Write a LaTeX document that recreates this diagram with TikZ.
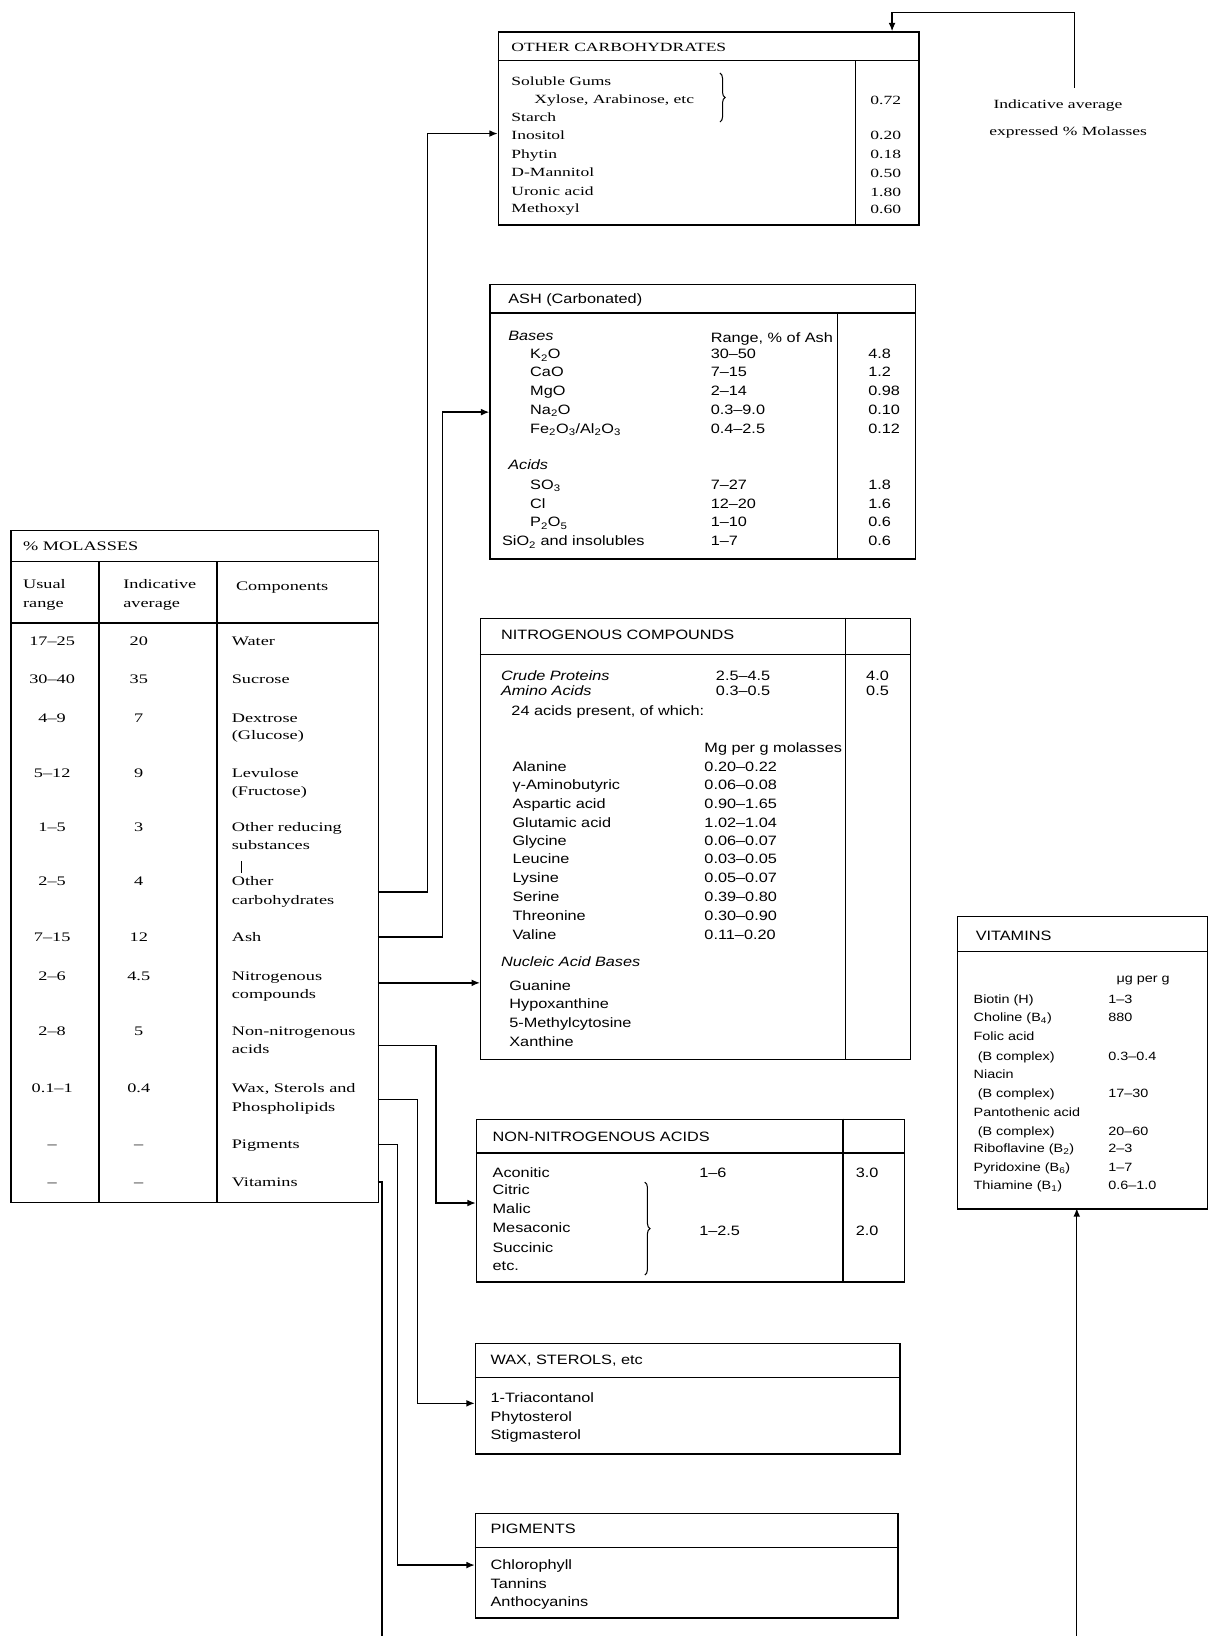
\documentclass[tikz,border=0pt]{standalone}
\usepackage{fontspec}
\setmainfont{Liberation Serif}[FakeStretch=1.4]
\newfontfamily\sansf{Liberation Sans}[FakeStretch=1.2]
\usetikzlibrary{arrows.meta,decorations.pathreplacing}
\newcommand\sbs[1]{\textsubscript{#1}}
\tikzset{
  frame/.style={draw, line width=1.3pt, inner sep=0pt, anchor=north west},
  rule/.style={line width=1.2pt},
  conn/.style={line width=1.3pt},
  arr/.style={conn, -{Latex[length=8pt,width=6.5pt]}},
  tl/.style={inner sep=0pt, anchor=base west},
  tc/.style={inner sep=0pt, anchor=base},
  serb/.style={font=\fontsize{12.5}{15}\selectfont},
  sers/.style={font=\fontsize{12}{14}\selectfont},
  sanb/.style={font=\sansf\fontsize{13}{15}\selectfont},
  sanv/.style={font=\sansf\fontsize{11.5}{14}\selectfont},
  bracestyle/.style={decorate, decoration={brace, amplitude=5pt}, line width=1pt},
}
\begin{document}
\begin{tikzpicture}[x=1pt,y=-1pt]
\useasboundingbox (0,0) rectangle (1157,1568);

% ---------------- OTHER CARBOHYDRATES
\node[frame, minimum width=403pt, minimum height=185pt] (oc) at (477,30) {};
\draw[rule] (477,58) -- (880,58);
\draw[rule] (820,58) -- (820,215);
\node[tl, sers] (ocH) at (490,49) {OTHER CARBOHYDRATES};
\foreach \n/\x/\y/\s in {1/490/78/Soluble Gums, 2/512/95/{Xylose, Arabinose, etc}, 3/490/112/Starch, 4/490/130/Inositol, 5/490/148/Phytin, 6/490/165/D-Mannitol, 7/490/183/Uronic acid, 8/490/200/Methoxyl}
  \node[tl, sers] (ocN\n) at (\x,\y+4) {\s};
\foreach \n/\y/\v in {1/96/0.72, 4/130/0.20, 5/148/0.18, 6/166/0.50, 7/184/1.80, 8/201/0.60}
  \node[tl, sers] (ocV\n) at (834,\y+4) {\v};
\draw[bracestyle] (690,70) -- (690,117);

\node[tl, sers] (lab1) at (952,104) {Indicative average};
\node[tl, sers] (lab2) at (948,130) {expressed \% Molasses};
\coordinate (labtop) at (1030,84);
\coordinate (ocTop) at (855,30);
\draw[arr] (labtop) -- (1030,12) -- (855,12) -- (ocTop);

% ---------------- % MOLASSES
\node[frame, minimum width=352pt, minimum height=644pt] (mol) at (10,508) {};
\draw[rule] (10,538) -- (362,538);
\draw[rule] (10,597) -- (362,597);
\draw[rule] (95,538) -- (95,1152);
\draw[rule] (208,538) -- (208,1152);
\node[tl, serb] (molH) at (22,528) {\% MOLASSES};
\node[tl, serb] (h1a) at (22,564) {Usual};
\node[tl, serb] (h1b) at (22,582) {range};
\node[tl, serb] (h2a) at (118,564) {Indicative};
\node[tl, serb] (h2b) at (118,582) {average};
\node[tl, serb] (h3) at (226,566) {Components};
\foreach \n/\y/\u/\a/\c in {
  1/615/17–25/20/Water,
  2/651/30–40/35/Sucrose,
  3/688/4–9/7/Dextrose,
  4/741/5–12/9/Levulose,
  5/793/1–5/3/Other reducing,
  6/845/2–5/4/Other,
  7/898/7–15/12/Ash,
  8/936/2–6/4.5/Nitrogenous,
  9/988/2–8/5/Non-nitrogenous,
  10/1043/0.1–1/0.4/{Wax, Sterols and},
  11/1097/–/–/Pigments,
  12/1133/–/–/Vitamins}{
  \node[tc, serb] (u\n) at (50,\y+4) {\u};
  \node[tc, serb] (a\n) at (133,\y+4) {\a};
  \node[tl, serb] (c\n) at (222,\y+4) {\c};
}
\foreach \n/\y/\c in {3/705/(Glucose), 4/758/(Fructose), 5/810/substances, 6/863/carbohydrates, 8/953/compounds, 9/1006/acids, 10/1061/Phospholipids}
  \node[tl, serb] (cc\n) at (222,\y+4) {\c};
\draw[line width=0.9pt] (231,825) -- (231,837);

% ---------------- ASH
\node[frame, minimum width=408pt, minimum height=263pt] (ash) at (469,272) {};
\draw[rule] (469,300) -- (877,300);
\draw[rule] (803,300) -- (803,535);
\node[tl, sanb] (ashH) at (487,291) {ASH (Carbonated)};
\node[tl, sanb] (ashB) at (487,326) {\itshape Bases};
\node[tl, sanb] (ashRg) at (681,328) {Range, \% of Ash};
\node[tl, sanb] (ashA) at (487,450) {\itshape Acids};
\foreach \n/\x/\y/\s/\r/\v in {
  1/508/340/K\sbs{2}O/30–50/4.8,
  2/508/357/CaO/7–15/1.2,
  3/508/375/MgO/2–14/0.98,
  4/508/393/Na\sbs{2}O/0.3–9.0/0.10,
  5/508/411/{Fe\sbs{2}O\sbs{3}/Al\sbs{2}O\sbs{3}}/0.4–2.5/0.12,
  6/508/465/SO\sbs{3}/7–27/1.8,
  7/508/483/Cl/12–20/1.6,
  8/508/501/P\sbs{2}O\sbs{5}/1–10/0.6,
  9/481/519/SiO\sbs{2} and insolubles/1–7/0.6}{
  \node[tl, sanb] (ashN\n) at (\x,\y+4) {\s};
  \node[tl, sanb] (ashR\n) at (681,\y+4) {\r};
  \node[tl, sanb] (ashV\n) at (832,\y+4) {\v};
}

% ---------------- NITROGENOUS COMPOUNDS
\node[frame, minimum width=412pt, minimum height=423pt] (nit) at (460,592) {};
\draw[rule] (460,627) -- (872,627);
\draw[rule] (810,592) -- (810,1015);
\node[tl, sanb] (nitH) at (480,613) {NITROGENOUS COMPOUNDS};
\node[tl, sanb] (nitCP) at (480,652) {\itshape Crude Proteins};
\node[tl, sanb] (nitCPr) at (686,652) {2.5–4.5};
\node[tl, sanb] (nitCPv) at (830,652) {4.0};
\node[tl, sanb] (nitAA) at (480,667) {\itshape Amino Acids};
\node[tl, sanb] (nitAAr) at (686,667) {0.3–0.5};
\node[tl, sanb] (nitAAv) at (830,667) {0.5};
\node[tl, sanb] (nit24) at (490,686) {24 acids present, of which:};
\node[tl, sanb] (nitMg) at (675,721) {Mg per g molasses};
\foreach \n/\y/\s/\r in {
  1/735/Alanine/0.20–0.22,
  2/753/γ-Aminobutyric/0.06–0.08,
  3/771/Aspartic acid/0.90–1.65,
  4/789/Glutamic acid/1.02–1.04,
  5/806/Glycine/0.06–0.07,
  6/824/Leucine/0.03–0.05,
  7/842/Lysine/0.05–0.07,
  8/860/Serine/0.39–0.80,
  9/878/Threonine/0.30–0.90,
  10/896/Valine/0.11–0.20}{
  \node[tl, sanb] (nitN\n) at (491,\y+4) {\s};
  \node[tl, sanb] (nitR\n) at (675,\y+4) {\r};
}
\node[tl, sanb] (nitNB) at (480,926) {\itshape Nucleic Acid Bases};
\foreach \n/\y/\s in {1/945/Guanine, 2/963/Hypoxanthine, 3/981/5-Methylcytosine, 4/999/Xanthine}
  \node[tl, sanb] (nitB\n) at (488,\y+4) {\s};

% ---------------- NON-NITROGENOUS ACIDS
\node[frame, minimum width=410pt, minimum height=156pt] (non) at (456,1072) {};
\draw[rule] (456,1105) -- (866,1105);
\draw[rule] (808,1072) -- (808,1228);
\node[tl, sanb] (nonH) at (472,1094) {NON-NITROGENOUS ACIDS};
\foreach \n/\y/\s in {1/1125/Aconitic, 2/1141/Citric, 3/1159/Malic, 4/1177/Mesaconic, 5/1196/Succinic, 6/1214/etc.}
  \node[tl, sanb] (nonN\n) at (472,\y+4) {\s};
\node[tl, sanb] (nonR1) at (670,1129) {1–6};
\node[tl, sanb] (nonV1) at (820,1129) {3.0};
\node[tl, sanb] (nonR2) at (670,1184) {1–2.5};
\node[tl, sanb] (nonV2) at (820,1184) {2.0};
\draw[bracestyle] (618,1133) -- (618,1222);

% ---------------- WAX, STEROLS
\node[frame, minimum width=407pt, minimum height=106pt] (wax) at (455,1287) {};
\draw[rule] (455,1320) -- (862,1320);
\node[tl, sanb] (waxH) at (470,1308) {WAX, STEROLS, etc};
\foreach \n/\y/\s in {1/1340/1-Triacontanol, 2/1358/Phytosterol, 3/1376/Stigmasterol}
  \node[tl, sanb] (waxN\n) at (470,\y+4) {\s};

% ---------------- PIGMENTS
\node[frame, minimum width=405pt, minimum height=100pt] (pig) at (455,1450) {};
\draw[rule] (455,1483) -- (860,1483);
\node[tl, sanb] (pigH) at (470,1470) {PIGMENTS};
\foreach \n/\y/\s in {1/1500/Chlorophyll, 2/1518/Tannins, 3/1536/Anthocyanins}
  \node[tl, sanb] (pigN\n) at (470,\y+4) {\s};

% ---------------- VITAMINS
\node[frame, minimum width=240pt, minimum height=280pt] (vit) at (917,878) {};
\draw[rule] (917,912) -- (1157,912);
\node[tl, sanb] (vitH) at (935,901) {VITAMINS};
\node[tl, sanv] (vitU) at (1070,942) {μg per g};
\foreach \n/\x/\y/\s/\v in {
  1/933/958/Biotin (H)/1–3,
  2/933/975/Choline (B\sbs{4})/880,
  3/933/993/Folic acid/{},
  4/937/1012/(B complex)/0.3–0.4,
  5/933/1030/Niacin/{},
  6/937/1048/(B complex)/17–30,
  7/933/1066/Pantothenic acid/{},
  8/937/1084/(B complex)/20–60,
  9/933/1101/Riboflavine (B\sbs{2})/2–3,
  10/933/1119/Pyridoxine (B\sbs{6})/1–7,
  11/933/1136/Thiamine (B\sbs{1})/0.6–1.0}{
  \node[tl, sanv] (vitN\n) at (\x,\y+4) {\s};
  \node[tl, sanv] (vitV\n) at (1062,\y+4) {\v};
}

% ---------------- connectors
\coordinate (sOC) at (362,855);   \coordinate (eOC) at (477,128);
\coordinate (sASH) at (362,898);  \coordinate (eASH) at (469,395);
\coordinate (sNIT) at (362,942);  \coordinate (eNIT) at (460,942);
\coordinate (sNON) at (362,1002); \coordinate (eNON) at (456,1153);
\coordinate (sWAX) at (362,1054); \coordinate (eWAX) at (455,1345);
\coordinate (sPIG) at (362,1097); \coordinate (ePIG) at (455,1500);
\coordinate (sVIT) at (362,1133); \coordinate (eVIT) at (1032,1158);
\draw[arr] (sOC) -- (410,855) -- (410,128) -- (eOC);
\draw[arr] (sASH) -- (424,898) -- (424,395) -- (eASH);
\draw[arr] (sNIT) -- (eNIT);
\draw[arr] (sNON) -- (418,1002) -- (418,1153) -- (eNON);
\draw[arr] (sWAX) -- (400,1054) -- (400,1345) -- (eWAX);
\draw[arr] (sPIG) -- (381,1097) -- (381,1500) -- (ePIG);
\draw[arr] (sVIT) -- (366,1133) -- (366,1590) -- (1032,1590) -- (eVIT);
\end{tikzpicture}
\end{document}
